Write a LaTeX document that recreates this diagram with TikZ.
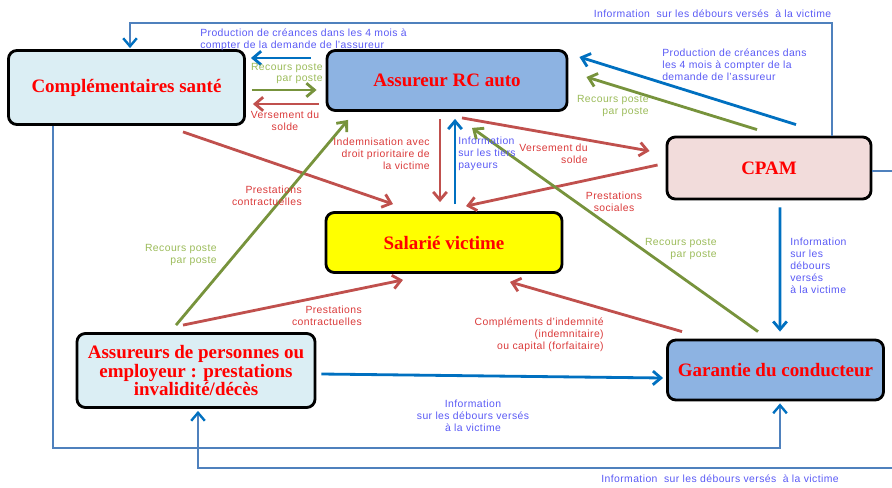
\documentclass[tikz,border=0pt]{standalone}
\usepackage{fontspec}
\setmainfont{Liberation Serif}
\setsansfont{Liberation Sans}
\newfontfamily\labelfont[LetterSpace=4]{Liberation Sans}
\usetikzlibrary{arrows.meta, calc}

\definecolor{boxblue}{HTML}{8DB3E2}
\definecolor{boxlight}{HTML}{DBEEF4}
\definecolor{boxpink}{HTML}{F2DCDB}
\definecolor{boxyellow}{HTML}{FFFF00}
\definecolor{arrblue}{HTML}{0070C0}
\definecolor{arrred}{HTML}{C0504D}
\definecolor{arrgreen}{HTML}{77933C}
\definecolor{loopblue}{HTML}{4F81BD}
\definecolor{txtred}{HTML}{DA3A3A}
\definecolor{txtgreen}{HTML}{9BBB59}
\definecolor{txtblue}{HTML}{5A5AF5}

\begin{document}
\begin{tikzpicture}[x=0.025cm, y=-0.025cm]
\useasboundingbox (0,0) rectangle (892,487);

\begin{scope}[every node/.style={draw=black, line width=2pt, rounded corners=6pt,
        align=center, text=red, font=\bfseries\fontsize{13.5}{13}\selectfont}]
    \node[fill=boxlight, minimum width=5.9cm, minimum height=1.85cm] (comp) at (126.5,87.5) {Compl\'ementaires sant\'e};
    \node[fill=boxblue,  minimum width=6cm,   minimum height=1.5cm]  (rc)   at (447,80.5)  {Assureur RC auto};
    \node[fill=boxpink,  minimum width=5.1cm, minimum height=1.55cm] (cpam) at (769,168)   {CPAM};
    \node[fill=boxyellow,minimum width=5.9cm, minimum height=1.5cm]  (sal)  at (444,242.5) {Salari\'e victime};
    \node[fill=boxlight, minimum width=5.95cm,minimum height=1.85cm] (pers) at (196,370.5) {Assureurs de personnes ou\\employeur : prestations\\invalidit\'e/d\'ec\`es};
    \node[fill=boxblue,  minimum width=5.4cm, minimum height=1.5cm]  (gar)  at (775.5,370) {Garantie du conducteur};
\end{scope}

% boucles d'information
\coordinate (rtop) at (832,23);
\coordinate (lbot) at (53,448);
\coordinate (rbot) at (905,468);
\begin{scope}[line width=1.7pt, draw=loopblue,
        >={Straight Barb[length=2mm, width=3.4mm, color=arrblue]}]
    \draw [->] ($(cpam.north)+(63,0)$) -- (rtop) -| ($(comp.north)+(3.5,-1)$);
    \draw [->] ($(comp.south)+(-73.5,0)$) -- (lbot) -| ($(gar.south)+(4.5,2)$);
    \draw [->] ($(cpam.east)+(0,3)$) -| (rbot) -| ($(pers.south)+(2,2)$);
\end{scope}

\begin{scope}[>={Straight Barb[length=2mm, width=3.4mm]},
        every edge/.style={draw, line width=2pt}]
    % vers les complementaires
    \path [->, arrblue]  ($(rc.west)+(-15,-22.5)$)  edge ($(comp.east)+(5,-29.5)$);
    \path [->, arrgreen] ($(comp.east)+(6,2.5)$)    edge ($(rc.west)+(-9,9.5)$);
    \path [->, arrred]   ($(rc.west)+(-7,23.5)$)    edge ($(comp.east)+(7,16.5)$);
    % CPAM / assureur
    \path [->, arrblue]  ($(cpam.north)+(27,-11)$)  edge ($(rc.east)+(11,-23.5)$);
    \path [->, arrgreen] ($(cpam.north)+(-12,-6)$)  edge ($(rc.east)+(18,-3.5)$);
    \path [->, arrred]   ($(rc.south)+(15,6)$)      edge ($(cpam.west)+(-16,-17)$);
    \path [->, arrred]   ($(cpam.west)+(-8,-3)$)    edge ($(sal.north)+(22,-5)$);
    % assureur / victime
    \path [->, arrred]   ($(rc.south)+(-7,7)$)      edge ($(sal.north)+(-4,-9)$);
    \path [->, arrblue]  ($(sal.north)+(11,-7)$)    edge ($(rc.south)+(8,7)$);
    \path [->, arrred]   ($(comp.south)+(56.5,6)$)  edge ($(sal.north)+(-51,-7)$);
    % assureurs de personnes
    \path [->, arrgreen] ($(pers.north)+(-20,-7)$)  edge ($(rc.south)+(-99,8)$);
    \path [->, arrred]   ($(pers.north)+(-13,-7)$)  edge ($(sal.south)+(-41,6)$);
    \path [->, arrblue]  ($(pers.east)+(5,3.5)$)    edge ($(gar.west)+(-3,8)$);
    % garantie du conducteur
    \path [->, arrred]   ($(gar.north)+(-93.5,-7)$) edge ($(sal.south)+(66,8)$);
    \path [->, arrgreen] ($(gar.north)+(-17.5,-7)$) edge ($(rc.south)+(25,16)$);
    \path [->, arrblue]  ($(cpam.south)+(11,7)$)    edge ($(gar.north)+(4.5,-7)$);
\end{scope}

\begin{scope}[every node/.style={inner sep=0pt, font=\labelfont\fontsize{7.4}{8.5}\selectfont}]
    \node[txtblue, anchor=west, align=left]    (lprodcomp) at (200,39.5) {Production de cr\'eances dans les 4 mois \`a\\compter de la demande de l’assureur};
    \node[txtgreen, anchor=east, align=right]  (lreccomp)  at (323,73.5) {Recours poste\\par poste};
    \node[txtred, align=center]                (lverscomp) at (285,121)  {Versement du\\solde};
    \node[txtblue, anchor=west, align=left]    (lprodcpam) at (662,65)   {Production de cr\'eances dans\\les 4 mois \`a compter de la\\demande de l’assureur};
    \node[txtgreen, anchor=east, align=right]  (lreccpam)  at (649,106)  {Recours poste\\par poste};
    \node[txtred, anchor=east, align=right]    (lverscpam) at (588,154)  {Versement du\\solde};
    \node[txtred, align=center]                (lprestsoc) at (614,201.5) {Prestations\\sociales};
    \node[txtred, anchor=east, align=right]    (lindem)    at (430,154)  {Indemnisation avec\\droit prioritaire de\\la victime};
    \node[txtblue, anchor=west, align=left]    (linfotiers) at (458,154) {Information\\sur les tiers\\payeurs};
    \node[txtred, anchor=east, align=right]    (lprestcomp) at (302,196) {Prestations\\contractuelles};
    \node[txtgreen, anchor=east, align=right]  (lrecpers)  at (217,255)  {Recours poste\\par poste};
    \node[txtred, anchor=east, align=right]    (lprestpers) at (362,315.5) {Prestations\\contractuelles};
    \node[txtred, anchor=east, align=right]    (lcompl)    at (604,335)  {Compl\'ements d’indemnit\'e\\(indemnitaire)\\ou capital (forfaitaire)};
    \node[txtgreen, anchor=east, align=right]  (lrecgar)   at (717,249)  {Recours poste\\par poste};
    \node[txtblue, anchor=west, align=left]    (linfocpam) at (790,266)  {Information\\sur les\\d\'ebours\\vers\'es\\\`a la victime};
    \node[txtblue, align=center]               (linfopers) at (473,416)  {Information\\sur les d\'ebours vers\'es\\\`a la victime};
    \node[txtblue]                             (linfotop)  at (712.5,14) {Information \ sur les d\'ebours vers\'es \ \`a la victime};
    \node[txtblue]                             (linfobot)  at (720,479)  {Information \ sur les d\'ebours vers\'es \ \`a la victime};
\end{scope}
\end{tikzpicture}
\end{document}
